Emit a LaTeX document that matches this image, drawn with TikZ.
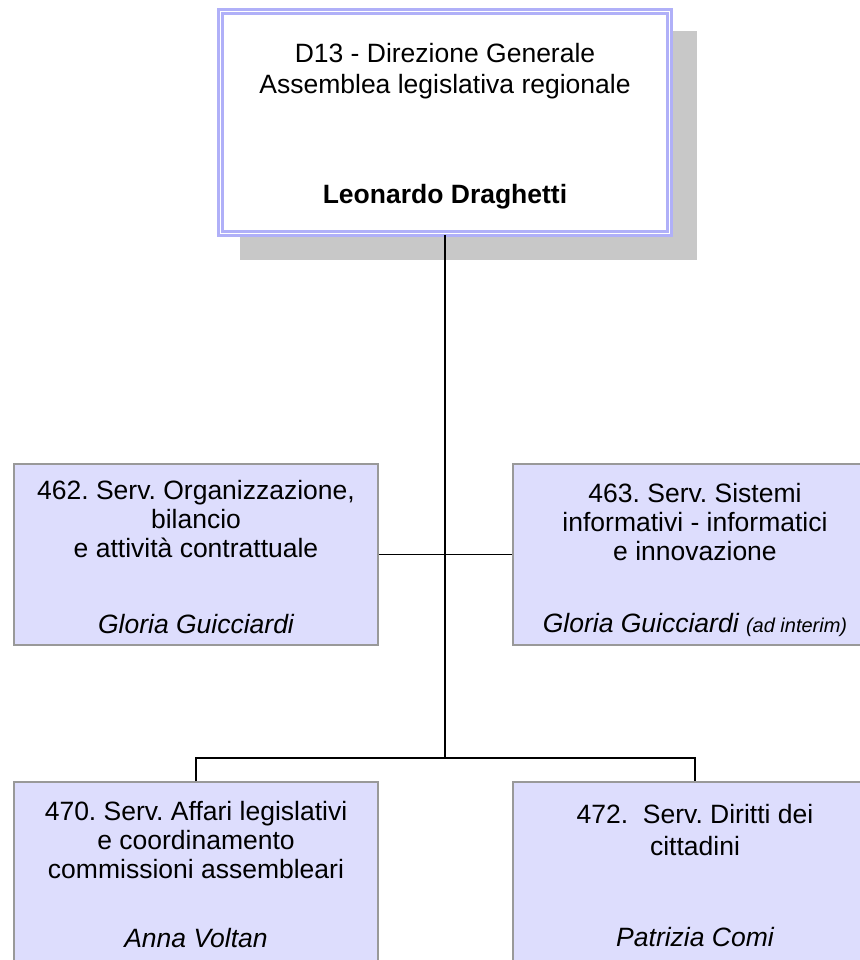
\documentclass[tikz,border=0pt]{standalone}
\usepackage{fontspec}
\setmainfont{Liberation Sans}
\usetikzlibrary{positioning}

\definecolor{unitfill}{RGB}{221,221,253}
\definecolor{unitline}{RGB}{153,153,153}
\definecolor{headline}{RGB}{176,176,248}
\definecolor{shadowgray}{RGB}{200,200,200}

\newcommand{\unitfont}{\fontsize{26.5}{29}\selectfont}
\frenchspacing

\tikzset{
  headbox/.style={draw=headline, double=white, double distance=1.5pt, line width=2.5pt,
    fill=white, minimum width=449pt, minimum height=222pt, inner sep=0pt},
  unitbox/.style={draw=unitline, fill=unitfill, line width=1.5pt,
    minimum width=364pt, minimum height=181pt, inner sep=0pt},
  unittext/.style={align=center, anchor=base, inner sep=0pt, font=\unitfont},
  link/.style={line width=1.8pt}
}

\begin{document}
\begin{tikzpicture}[x=1pt, y=-1pt]
    \useasboundingbox (0,0) rectangle (859,960);
    \fill[white] (0,0) rectangle (859,960);

    % Direzione generale
    \fill[shadowgray] (240,31) rectangle (697,260);
    \node[headbox] (head) at (445,122.5) {};
    \node[unittext, font=\fontsize{26.5}{31}\selectfont] (headtitle) at (445,94)
        {D13 - Direzione Generale\\Assemblea legislativa regionale};
    \node[unittext, font=\unitfont\bfseries] (headname) at (445,204) {Leonardo Draghetti};

    % Servizi, primo livello
    \node[unitbox] (s462) at (196,554.5) {};
    \node[unittext] (t462) at (196,557)
        {462. Serv. Organizzazione,\\bilancio\\e attività contrattuale};
    \node[unittext, font=\unitfont\itshape] (n462) at (196,633) {Gloria Guicciardi};

    \node[unitbox] (s463) at (695,554.5) {};
    \node[unittext] (t463) at (695,560)
        {463. Serv. Sistemi\\informativi - informatici\\e innovazione};
    \node[unittext, font=\unitfont\itshape] (n463) at (695,632)
        {Gloria Guicciardi {\fontsize{20}{22}\selectfont (ad interim)}};

    % Servizi, secondo livello
    \node[unitbox, minimum height=240pt] (s470) at (196,902) {};
    \node[unittext] (t470) at (196,878)
        {470. Serv. Affari legislativi\\e coordinamento\\commissioni assembleari};
    \node[unittext, font=\unitfont\itshape] (n470) at (196,947) {Anna Voltan};

    \node[unitbox, minimum height=240pt] (s472) at (695,902) {};
    \node[unittext, font=\fontsize{26.5}{32}\selectfont] (t472) at (695,855)
        {472.\ \ Serv. Diritti dei\\cittadini};
    \node[unittext, font=\unitfont\itshape] (n472) at (695,946) {Patrizia Comi};

    % Collegamenti
    \coordinate (bus) at (445,758);
    \draw[link] (head.south) -- (bus);
    \draw[link] (s462.east) -- (s463.west);
    \draw[link] (s470.north) |- (bus) -| (s472.north);
\end{tikzpicture}
\end{document}
